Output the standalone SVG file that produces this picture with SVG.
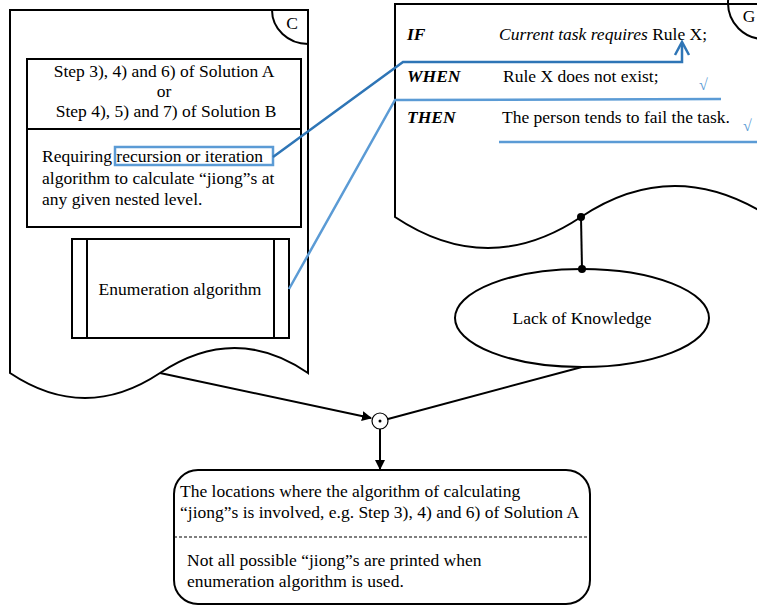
<svg xmlns="http://www.w3.org/2000/svg" width="757" height="606" viewBox="0 0 757 606">
<style>
.s{fill:none;stroke:#000;stroke-width:2}
.t{font-family:"Liberation Serif",serif;font-size:17.5px;fill:#000}
.bi{font-weight:bold;font-style:italic}
.b1{fill:none;stroke:#2e75b6;stroke-width:2.5}
.b2{fill:none;stroke:#5b9bd5;stroke-width:2.5}
.ck{font-family:"Liberation Serif",serif;font-size:16px;fill:#5b9bd5}
</style>
<defs>
<marker id="ah" markerWidth="10" markerHeight="10" refX="9" refY="5" orient="auto" markerUnits="userSpaceOnUse" viewBox="0 0 10 10">
<path d="M0,0 L10,5 L0,10 Z" fill="#000"/>
</marker>
</defs>
<rect width="757" height="606" fill="#fff"/>
<g id="nodeC">
<path class="s" d="M10,373 L10,10 L308,10 L308,373 Q235,323 160,373 Q85,423 10,373 Z"/>
<path class="s" d="M272,10 A36,34 0 0 0 308,44"/>
<text class="t" x="292" y="29" text-anchor="middle" font-size="18">C</text>
<rect class="s" x="27" y="59" width="274" height="168"/>
<line class="s" x1="27" y1="129" x2="301" y2="129"/>
<text class="t" text-anchor="middle"><tspan x="164" y="77">Step 3), 4) and 6) of Solution A</tspan><tspan x="164" y="97">or</tspan><tspan x="166" y="117">Step 4), 5) and 7) of Solution B</tspan></text>
<text class="t"><tspan x="42" y="162">Requiring recursion or iteration</tspan><tspan x="42" y="184">algorithm to calculate “jiong”s at</tspan><tspan x="42" y="205">any given nested level.</tspan></text>
<rect x="115" y="147" width="158" height="18" fill="none" stroke="#5b9bd5" stroke-width="2.5"/>
<rect class="s" x="72" y="239" width="217" height="99"/>
<line class="s" x1="87" y1="239" x2="87" y2="338"/>
<line class="s" x1="274" y1="239" x2="274" y2="338"/>
<text class="t" x="180" y="295" text-anchor="middle">Enumeration algorithm</text>
</g>
<g id="nodeG">
<path class="s" d="M395,217 L395,4 L770,4 L770,217 Q674,155 581,217 Q488,279 395,217 Z"/>
<circle cx="764" cy="3" r="36" class="s"/>
<text class="t" x="749" y="22" text-anchor="middle" font-size="18">G</text>
<text class="t bi" x="407" y="40">IF</text>
<text class="t" x="499" y="40"><tspan font-style="italic">Current task requires</tspan> Rule X;</text>
<text class="t bi" x="407" y="82">WHEN</text>
<text class="t" x="503" y="82">Rule X does not exist;</text>
<text class="t bi" x="407" y="123">THEN</text>
<text class="t" x="502" y="123">The person tends to fail the task.</text>
<text class="ck" x="699" y="90">√</text>
<text class="ck" x="743" y="131">√</text>
</g>
<g id="nodeLack">
<ellipse class="s" cx="582" cy="318" rx="127" ry="49"/>
<text class="t" x="582" y="324" text-anchor="middle">Lack of Knowledge</text>
</g>
<g id="nodeJ">
<circle cx="380" cy="421" r="8" fill="#fff" stroke="#000" stroke-width="1.2"/>
<circle cx="380" cy="421" r="1.5" fill="#000"/>
</g>
<g id="nodeResult">
<rect class="s" x="174" y="470" width="416" height="134" rx="24" ry="24"/>
<line x1="174" y1="537" x2="590" y2="537" stroke="#000" stroke-width="1.2" stroke-dasharray="3,2"/>
<text class="t"><tspan x="180" y="497">The locations where the algorithm of calculating</tspan><tspan x="180" y="518">“jiong”s is involved, e.g. Step 3), 4) and 6) of Solution A</tspan></text>
<text class="t"><tspan x="187" y="566">Not all possible “jiong”s are printed when</tspan><tspan x="187" y="587">enumeration algorithm is used.</tspan></text>
</g>
<g id="connectors">
<line class="s" x1="160" y1="373" x2="371" y2="418" marker-end="url(#ah)"/>
<line class="s" x1="582" y1="367" x2="388" y2="419"/>
<line class="s" x1="380" y1="429" x2="380" y2="469" marker-end="url(#ah)"/>
<line class="s" x1="581" y1="217" x2="582" y2="269"/>
<circle cx="581" cy="217" r="4" fill="#000"/>
<circle cx="582" cy="269" r="4" fill="#000"/>
<polyline class="b1" points="273,157 403,62 682,62 682,43"/>
<polyline class="b1" points="675,55 682,42 689,55"/>
<polyline class="b2" points="289,289 395,100 721,99"/>
<line class="b2" x1="499" y1="142" x2="757" y2="142"/>
</g>
</svg>
